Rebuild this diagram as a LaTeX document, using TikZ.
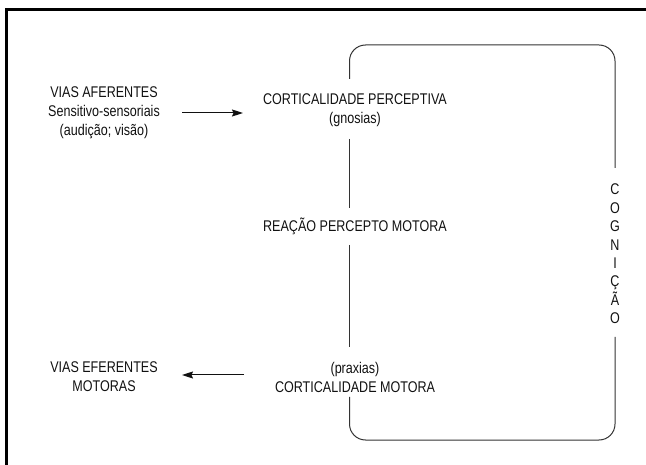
\documentclass[tikz,border=0pt]{standalone}
\usepackage{fontspec}
\setmainfont{Liberation Sans}[FakeStretch=0.81]
\usetikzlibrary{arrows.meta}
\definecolor{ink}{HTML}{111111}
\definecolor{boxline}{HTML}{333333}
\tikzset{
  lbl/.style={font=\fontsize{15.5}{19}\selectfont, text=ink, align=center, inner sep=0pt},
  cogtxt/.style={font=\fontsize{15.5}{18.4}\selectfont, text=ink, align=center, inner sep=0pt},
  frameline/.style={line width=2.5pt, black},
  boxseg/.style={line width=1pt, boxline},
  flow/.style={line width=1pt, ink, -{Stealth[length=11pt,width=7pt,inset=1.5pt]}},
}
\begin{document}
\begin{tikzpicture}[x=1pt,y=-1pt]
\useasboundingbox (0,0) rectangle (646,465);
% outer frame (top and left edges only)
\coordinate (fTL) at (6.5,9.5);
\coordinate (fTR) at (646,9.5);
\coordinate (fBL) at (6.5,465);
\draw[frameline] (fTR) -- (fTL) -- (fBL);

% texts
\node[lbl] (va) at (104,113) {VIAS AFERENTES\\Sensitivo-sensoriais\\(audição; visão)};
\node[lbl] (cp) at (355,110) {CORTICALIDADE PERCEPTIVA\\(gnosias)};
\node[lbl] (rpm) at (355,226) {REAÇÃO PERCEPTO MOTORA};
\node[lbl] (cm) at (355,377) {(praxias)\\CORTICALIDADE MOTORA};
\node[lbl] (ve) at (104,377) {VIAS EFERENTES\\MOTORAS};
\node[cogtxt] (cog) at (615,254) {C\\O\\G\\N\\I\\Ç\\Ã\\O};

% arrows
\coordinate (a1s) at (182,113);
\coordinate (a1e) at (243,113);
\coordinate (a2s) at (244,375);
\coordinate (a2e) at (182,375);
\draw[flow] (a1s) -- (a1e);
\draw[flow] (a2s) -- (a2e);

% rounded box with gaps
\coordinate (l1) at (349.5,79);
\coordinate (l2) at (349.5,139);
\coordinate (l3) at (349.5,208);
\coordinate (l4) at (349.5,245);
\coordinate (l5) at (349.5,347);
\coordinate (l6) at (349.5,397);
\coordinate (r1) at (615,168);
\coordinate (r2) at (615,337);
\coordinate (bTR) at (615,45);
\coordinate (bBL) at (349.5,440);
\draw[boxseg, rounded corners=16pt] (l1) |- (bTR) -- (r1);
\draw[boxseg, rounded corners=16pt] (r2) |- (bBL) -- (l6);
\draw[boxseg] (l2) -- (l3);
\draw[boxseg] (l4) -- (l5);
\end{tikzpicture}
\end{document}
